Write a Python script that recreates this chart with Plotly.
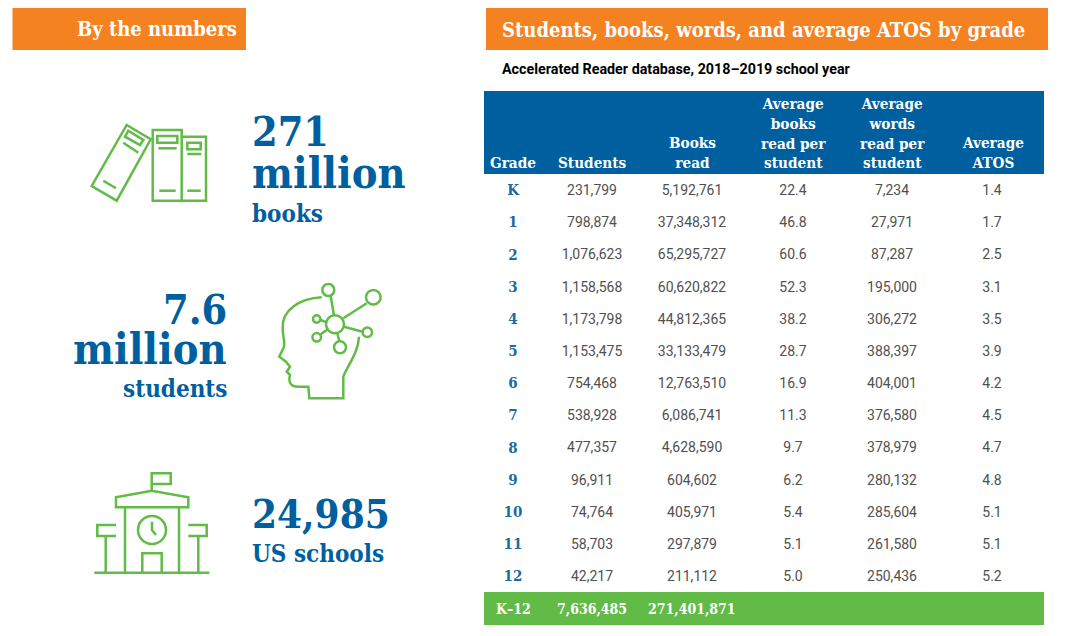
import plotly.graph_objs as go

grades = ['K', '1', '2', '3', '4', '5', '6', '7', '8', '9', '10', '11', '12']
students = ['231,799', '798,874', '1,076,623', '1,158,568', '1,173,798', '1,153,475', '754,468',
            '538,928', '477,357', '96,911', '74,764', '58,703', '42,217']
books_read = ['5,192,761', '37,348,312', '65,295,727', '60,620,822', '44,812,365', '33,133,479', '12,763,510',
              '6,086,741', '4,628,590', '604,602', '405,971', '297,879', '211,112']
books_per_student = ['22.4', '46.8', '60.6', '52.3', '38.2', '28.7', '16.9', '11.3', '9.7', '6.2', '5.4', '5.1', '5.0']
words_per_student = ['7,234', '27,971', '87,287', '195,000', '306,272', '388,397', '404,001',
                     '376,580', '378,979', '280,132', '285,604', '261,580', '250,436']
average_atos = ['1.4', '1.7', '2.5', '3.1', '3.5', '3.9', '4.2', '4.5', '4.7', '4.8', '5.1', '5.1', '5.2']
header_labels = ['Grade', 'Students', 'Books<br>read', 'Average<br>books<br>read per<br>student',
                 'Average<br>words<br>read per<br>student', 'Average<br>ATOS']
total_labels = ['K\u201312', '7,636,485', '271,401,871']

ORANGE = '#F58220'
BLUE = '#005F9E'
GREEN = '#61BB46'
SLAB = 'DejaVu Serif Condensed'


def note(x, y, text, size, color=BLUE, anchor='left', family=SLAB, weight=700, valign='middle'):
    """
    One piece of page text, placed in page pixels
    """
    return dict(x=x, y=y, text=text, showarrow=False, xanchor=anchor, yanchor=valign, align=anchor,
                font=dict(family=family, size=size, color=color, weight=weight))


def icon_shapes():
    """
    Outline icons for books, head and school
    """
    line = dict(color=GREEN, width=2.5)
    paths = [
        # books
        'M126.7,125 L150.7,139.3 L116.7,200.7 L91.7,186 Z',
        'M128.3,130.7 L143.3,140 L140,145 L125,136.7 Z',
        'M123.3,142.7 L138.3,152.7',
        'M103.3,180.7 L116,188.3',
        'M152.7,130 L181.7,130 L181.7,200.7 L152.7,200.7 Z',
        'M157.3,136 L177.3,136 L177.3,142.7 L157.3,142.7 Z',
        'M158.3,148.3 L176.7,148.3',
        'M159.3,190.7 L175.7,190.7',
        'M181.7,136.7 L206,136.7 L206,200.7 L181.7,200.7',
        'M187.3,142.7 L200.7,142.7 L200.7,149.3 L187.3,149.3 Z',
        'M187.3,154 L201.3,154',
        'M187.3,190.7 L200.7,190.7',
        # head
        'M321.7,297.3 C300,298.3 281.7,310 282.7,328.3 C282.7,338.3 286,343.3 283.3,348.3 L279.3,356.7 '
        'L286,361.7 L290,366.7 L286.7,371.7 L290,375 C288.3,381.7 290,386.7 298.3,386.7 L308.3,386.7 '
        'L309.3,398.3 L343.3,398.3 L343.3,376.7 C346.7,366.7 358.3,353.3 359,336.7',
        'M330.7,296 L334,315.7',
        'M366.7,303.3 L343.3,318.3',
        'M320.7,320 L326.7,322.3',
        'M320.7,334.3 L327.7,329.3',
        'M337.3,333.3 L339.3,341',
        'M344,326.7 L362.7,331.7',
        # school
        'M94.3,572.7 L209.3,572.7',
        'M151.7,490.7 L151.7,473.3 L170.7,473.3 L170.7,484 L151.7,484',
        'M116,497.3 L151.7,490.7 L188.3,497.3 L188.3,507.3 L116,507.3 Z',
        'M125,507.3 L125,572.7',
        'M179,507.3 L179,572.7',
        'M152,521.7 L152,530 L156,535',
        'M142.3,572.7 L142.3,553.3 L161.7,553.3 L161.7,572.7',
        'M116,525 L97.3,525 L97.3,536 L116,536',
        'M105.7,536 L105.7,572.7',
        'M188.3,525 L206.7,525 L206.7,536 L188.3,536',
        'M198.3,536 L198.3,572.7',
    ]
    shapes = [dict(type='path', path=p, line=line) for p in paths]

    circles = [(335, 324.3, 9), (328.3, 290, 6), (373.3, 297.3, 7.3), (316.7, 319, 3.7),
               (316.7, 337.3, 4.3), (340, 347.3, 6), (367.3, 332.3, 4.7), (152, 530, 14)]
    for cx, cy, r in circles:
        shapes.append(dict(type='circle', x0=cx - r, x1=cx + r, y0=cy - r, y1=cy + r, line=line))
    return shapes


def main():
    """
    Produce the by-the-numbers panel and the table of readers by grade
    """
    row_y = [191.5 + 32.17 * i for i in range(len(grades))]  # row centres on the page

    columns = [(592, students), (692, books_read), (793, books_per_student),
               (892, words_per_student), (992, average_atos)]

    data = [
        go.Scatter(
            x=[513] * len(grades),
            y=row_y,
            text=grades,
            mode='text',
            textfont=dict(family=SLAB, size=15, color='#1A6AA5', weight=700),
            hoverinfo='skip'
        )
    ]
    for col_x, values in columns:
        data.append(
            go.Scatter(
                x=[col_x] * len(values),
                y=row_y,
                text=values,
                mode='text',
                textfont=dict(family='Roboto', size=14, color='#505050'),
                hoverinfo='skip'
            )
        )

    shapes = [
        dict(type='rect', x0=12.5, x1=246, y0=6, y1=50, fillcolor=ORANGE, line_width=0, layer='below'),
        dict(type='rect', x0=486, x1=1048, y0=6, y1=50, fillcolor=ORANGE, line_width=0, layer='below'),
        dict(type='rect', x0=484, x1=1044, y0=91, y1=174, fillcolor=BLUE, line_width=0, layer='below'),
        dict(type='rect', x0=484, x1=1044, y0=592, y1=625, fillcolor=GREEN, line_width=0, layer='below'),
    ] + icon_shapes()

    annotations = [
        note(75, 29, 'By the numbers', 20, color='white'),
        note(500, 30, 'Students, books, words, and average ATOS by grade', 20, color='white'),
        note(500, 69, 'Accelerated Reader database, 2018\u20132019 school year', 14.3, color='black', family='Roboto'),
        note(250, 132, '271', 41),
        note(250, 173, 'million', 43),
        note(250, 213, 'books', 24),
        note(229, 310, '7.6', 41, anchor='right'),
        note(229, 349, 'million', 43, anchor='right'),
        note(229, 388, 'students', 24, anchor='right'),
        note(250, 513, '24,985', 40),
        note(250, 553, 'US schools', 24),
    ]
    for col_x, label in zip([513, 592, 692, 793, 892, 993], header_labels):
        annotations.append(note(col_x, 174, label, 15.2, color='white', anchor='center', valign='bottom'))
    for col_x, label in zip([513, 592, 692], total_labels):
        annotations.append(note(col_x, 609, label, 14, color='white', anchor='center'))

    # the page keeps an 8 px body margin, so the axes start at 8
    layout = go.Layout(
        width=1072,
        height=628,
        margin=dict(l=0, r=0, t=0, b=0),
        paper_bgcolor='white',
        plot_bgcolor='white',
        showlegend=False,
        xaxis=dict(range=[8, 1080], visible=False),
        yaxis=dict(range=[636, 8], visible=False),
        shapes=shapes,
        annotations=annotations
    )

    fig = go.Figure(data=data, layout=layout)
    fig.write_html("out.html")


if __name__ == "__main__":
    main()
